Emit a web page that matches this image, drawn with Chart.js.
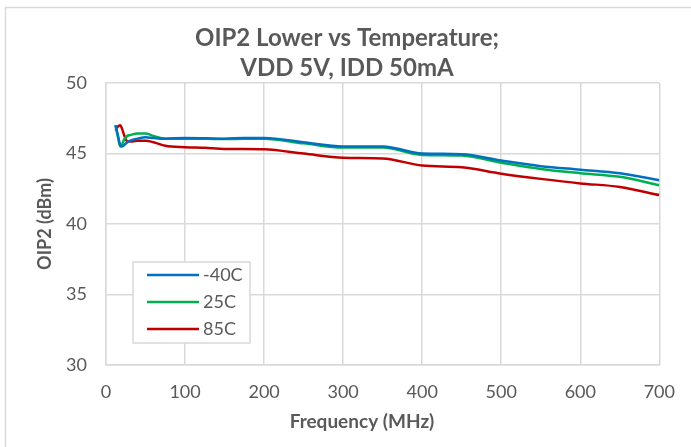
<!DOCTYPE html>
<html>
<head>
<meta charset="utf-8">
<script src="https://cdn.jsdelivr.net/npm/chart.js@4"></script>
<style>
  html, body { margin: 0; padding: 0; background: #fff; }
  #wrap { width: 691px; height: 447px; }
</style>
</head>
<body>
<div id="wrap"><canvas id="oip2Chart" width="691" height="447"></canvas></div>
<script>
const freqMHz = [12, 15, 18, 20, 23, 27, 30, 40, 50, 60, 75, 100, 125, 150, 175, 200, 250, 300, 350, 400, 450, 500, 550, 600, 650, 700];
const oip2Minus40 = [47.0, 46.3, 45.6, 45.5, 45.6, 45.8, 45.9, 46.05, 46.15, 46.1, 46.05, 46.1, 46.08, 46.05, 46.1, 46.1, 45.8, 45.5, 45.5, 45.0, 44.95, 44.5, 44.1, 43.85, 43.6, 43.1];
const oip2Plus25 = [47.0, 46.2, 45.5, 45.6, 46.0, 46.25, 46.3, 46.42, 46.42, 46.25, 46.05, 46.05, 46.05, 46.02, 46.05, 46.05, 45.72, 45.42, 45.42, 44.9, 44.85, 44.35, 43.9, 43.6, 43.35, 42.75];
const oip2Plus85 = [46.65, 46.9, 47.0, 46.8, 46.3, 45.85, 45.85, 45.9, 45.9, 45.8, 45.55, 45.45, 45.4, 45.32, 45.32, 45.3, 45.0, 44.7, 44.65, 44.15, 44.02, 43.57, 43.2, 42.88, 42.63, 42.05];
const seriesLabels = ['-40C', '25C', '85C'];
const seriesColors = ['#0070C0', '#00B050', '#C00000'];
const chartTitle = ['OIP2 Lower vs Temperature;', 'VDD 5V, IDD 50mA'];
const xTitle = 'Frequency (MHz)';
const yTitle = 'OIP2 (dBm)';

const textGray = '#595959';
const gridGray = '#d9d9d9';

function toPoints(ys) {
    return freqMHz.map((f, i) => ({x: f, y: ys[i]}));
}

// frame, legend box and x axis title drawn by hand
const extras = {
    id: 'extras',
    beforeDraw(chart) {
        const c = chart.ctx;
        c.save();
        c.fillStyle = '#fff';
        c.fillRect(0, 0, chart.width, chart.height);
        c.strokeStyle = gridGray;
        c.lineWidth = 1.5;
        c.strokeRect(5.5, 7.5, chart.width + 10, chart.height + 10);
        c.restore();
    },
    afterDraw(chart) {
        const c = chart.ctx;
        const area = chart.chartArea;
        c.save();
        // legend
        const bx = area.left + 27, by = area.top + 179, bw = 117, bh = 81;
        c.fillStyle = '#fff';
        c.fillRect(bx, by, bw, bh);
        c.strokeStyle = gridGray;
        c.lineWidth = 1.5;
        c.strokeRect(bx, by, bw, bh);
        c.font = '18px Lato';
        c.textBaseline = 'middle';
        c.textAlign = 'left';
        seriesLabels.forEach((lab, i) => {
            const y = by + 13 + i * 27;
            c.strokeStyle = seriesColors[i];
            c.lineWidth = 2.5;
            c.beginPath();
            c.moveTo(bx + 14, y);
            c.lineTo(bx + 66, y);
            c.stroke();
            c.fillStyle = textGray;
            c.fillText(lab, bx + 70, y);
        });
        // x axis title
        c.font = 'bold 19px Lato';
        c.textAlign = 'center';
        c.fillStyle = textGray;
        c.fillText(xTitle, 362, 422);
        c.restore();
    }
};

new Chart(document.getElementById('oip2Chart'), {
    type: 'line',
    data: {
        datasets: [
            {label: seriesLabels[0], data: toPoints(oip2Minus40), borderColor: seriesColors[0], backgroundColor: seriesColors[0]},
            {label: seriesLabels[1], data: toPoints(oip2Plus25), borderColor: seriesColors[1], backgroundColor: seriesColors[1]},
            {label: seriesLabels[2], data: toPoints(oip2Plus85), borderColor: seriesColors[2], backgroundColor: seriesColors[2]}
        ]
    },
    options: {
        responsive: false,
        animation: false,
        layout: {padding: {left: 34, right: 31, top: 0, bottom: 0}},
        elements: {
            point: {radius: 0},
            line: {borderWidth: 2.5, cubicInterpolationMode: 'monotone'}
        },
        plugins: {
            legend: {display: false},
            tooltip: {enabled: false},
            title: {
                display: true,
                text: chartTitle,
                color: textGray,
                font: {family: 'Lato', size: 24, weight: 'bold', lineHeight: 30 / 24},
                padding: {top: 23, bottom: 0}
            }
        },
        scales: {
            x: {
                type: 'linear',
                min: 0,
                max: 700,
                afterFit: (s) => { s.height = 82; },
                grid: {color: gridGray, lineWidth: 1.5, drawTicks: false},
                border: {color: gridGray, width: 1.5},
                ticks: {stepSize: 100, color: textGray, font: {family: 'Lato', size: 18}, padding: 16, maxRotation: 0}
            },
            y: {
                min: 30,
                max: 50,
                afterFit: (s) => { s.width = 72; },
                grid: {color: gridGray, lineWidth: 1.5, drawTicks: false},
                border: {color: gridGray, width: 1.5},
                ticks: {stepSize: 5, color: textGray, font: {family: 'Lato', size: 18}, padding: 19},
                title: {
                    display: true,
                    text: yTitle,
                    color: textGray,
                    font: {family: 'Lato', size: 18, weight: 'bold'},
                    padding: {top: 0, bottom: 0}
                }
            }
        }
    },
    plugins: [extras]
});
</script>
</body>
</html>
